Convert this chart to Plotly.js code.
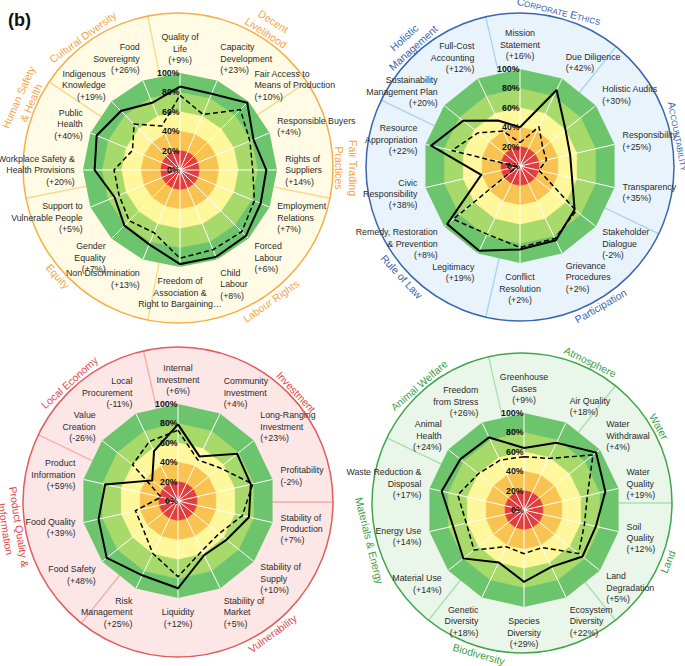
<!DOCTYPE html>
<html>
<head>
<meta charset="utf-8">
<script src="https://cdn.plot.ly/plotly-3.0.1.min.js"></script>
<style>
  html, body { margin: 0; padding: 0; background: #fff; }
  #chart { width: 685px; height: 666px; }
</style>
</head>
<body>
<div id="chart"></div>
<script>
// Score rings (percent) and band edges
const ringTicks = [0, 20, 40, 60, 80, 100];
const bandEdges = [80, 60, 40, 20];

// Social well-being
const socialNames = ["Quality of<br>Life", "Capacity<br>Development", "Fair Access to<br>Means of Production",
  "Responsible Buyers", "Rights of<br>Suppliers", "Employment<br>Relations", "Forced<br>Labour", "Child<br>Labour",
  "Freedom of<br>Association &<br>Right to Bargaining…", "Non Discrimination", "Gender<br>Equality",
  "Support to<br>Vulnerable People", "Workplace Safety &<br>Health Provisions", "Public<br>Health",
  "Indigenous<br>Knowledge", "Food<br>Sovereignty"];
const socialChange = [9, 23, 10, 4, 14, 7, 6, 8, null, 13, 7, 5, 20, 40, 19, 26];
const socialAfter = [86, 85, 98, 82, 89, 90, 96, 97, 97, 83, 81, 73, 88, 93, 86, 75];
const socialBefore = [77, 62, 88, 78, 75, 83, 90, 89, 91, 70, 74, 68, 68, 53, 67, 49];
const socialThemes = ["Decent<br>Livelihood", "Fair Trading<br>Practices", "Labour Rights", "Equity",
  "Human Safety<br>& Health", "Cultural Diversity"];
const socialThemeSizes = [3, 2, 4, 3, 2, 2];

// Good governance
const governanceNames = ["Mission<br>Statement", "Due Diligence", "Holistic Audits", "Responsibility",
  "Transparency", "Stakeholder<br>Dialogue", "Grievance<br>Procedures", "Conflict<br>Resolution", "Legitimacy",
  "Remedy, Restoration<br>& Prevention", "Civic<br>Responsibility", "Resource<br>Appropriation",
  "Sustainability<br>Management Plan", "Full-Cost<br>Accounting"];
const governanceChange = [16, 42, 30, 25, 35, -2, 2, 2, 19, 8, 38, 22, 20, 12];
const governanceAfter = [40, 87, 60, 53, 55, 72, 85, 86, 97, 96, 41, 94, 75, 52];
const governanceBefore = [24, 45, 30, 28, 20, 74, 83, 84, 78, 88, 3, 72, 55, 40];
const governanceThemes = ["C<span style='font-size:8px'>ORPORATE</span> E<span style='font-size:8px'>THICS</span>",
  "A<span style='font-size:8px'>CCOUNTABILITY</span>", "Participation", "Rule of Law", "Holistic<br>Management"];
const governanceThemeSizes = [2, 3, 3, 4, 2];

// Economic resilience
const economicNames = ["Internal<br>Investment", "Community<br>Investment", "Long-Ranging<br>Investment",
  "Profitability", "Stability of<br>Production", "Stability of<br>Supply", "Stability of<br>Market", "Liquidity",
  "Risk<br>Management", "Food Safety", "Food Quality", "Product<br>Information", "Value<br>Creation",
  "Local<br>Procurement"];
const economicChange = [6, 4, 23, -2, 7, 10, 5, 12, 25, 48, 39, 59, -26, -11];
const economicAfter = [79, 51, 78, 77, 75, 64, 62, 90, 85, 94, 84, 77, 34, 57];
const economicBefore = [73, 47, 55, 79, 68, 54, 57, 78, 60, 46, 45, 18, 60, 68];
const economicThemes = ["Investment", "Vulnerability", "Product Quality &<br>Information", "Local Economy"];
const economicThemeSizes = [4, 5, 3, 2];

// Environmental integrity
const environmentNames = ["Greenhouse<br>Gases", "Air Quality", "Water<br>Withdrawal", "Water<br>Quality",
  "Soil<br>Quality", "Land<br>Degradation", "Ecosystem<br>Diversity", "Species<br>Diversity", "Genetic<br>Diversity",
  "Material Use", "Energy Use", "Waste Reduction &<br>Disposal", "Animal<br>Health", "Freedom<br>from Stress"];
const environmentChange = [9, 18, 4, 19, 12, 5, 22, 29, 18, 14, 14, 17, 24, 26];
const environmentAfter = [64, 77, 95, 86, 76, 77, 65, 74, 60, 80, 75, 87, 84, 83];
const environmentBefore = [55, 59, 91, 67, 64, 72, 43, 45, 42, 66, 61, 70, 60, 57];
const environmentThemes = ["Atmosphere", "Water", "Land", "Biodiversity", "Materials & Energy", "Animal Welfare"];
const environmentThemeSizes = [2, 2, 2, 3, 3, 2];

(function () {
  const W = 685, H = 666;
  const R_IN = 97;
  const FONT = "Liberation Sans, Arial, sans-serif";
  const bandFill = { 100: "#6cc46c", 80: "#a7d96b", 60: "#fff79b", 40: "#f8c350", 20: "#e23e3f" };

  // cx/cy: score polygon centre; rx/ry/rr: outer ring circle
  const panels = [
    { names: socialNames, change: socialChange, after: socialAfter, before: socialBefore,
      themes: socialThemes, sizes: socialThemeSizes, labelAt: [33, 90, 145, 228, 294, 324],
      cx: 180, cy: 170, rx: 178, ry: 168, rr: 155,
      ring: "#fffbe4", edge: "#f6ae48", divider: "#f8d888", ink: "#f5a43c" },
    { names: governanceNames, change: governanceChange, after: governanceAfter, before: governanceBefore,
      themes: governanceThemes, sizes: governanceThemeSizes, labelAt: [14, 79, 150, 227, 318],
      cx: 520, cy: 166, rx: 520, ry: 167, rr: 154,
      ring: "#e8f3fc", edge: "#3b67ae", divider: "#a6d2f2", ink: "#3765b0" },
    { names: economicNames, change: economicChange, after: economicAfter, before: economicBefore,
      themes: economicThemes, sizes: economicThemeSizes, labelAt: [47, 144, 261, 318],
      cx: 178, cy: 501, rx: 178, ry: 502, rr: 155,
      ring: "#fde6e6", edge: "#e35b5b", divider: "#f3a8a8", ink: "#e2474b" },
    { names: environmentNames, change: environmentChange, after: environmentAfter, before: environmentBefore,
      themes: environmentThemes, sizes: environmentThemeSizes, labelAt: [26, 61, 112, 196, 256, 319],
      cx: 524, cy: 510, rx: 522, ry: 503, rr: 150,
      ring: "#eaf6ea", edge: "#3fa64a", divider: "#a8dfb0", ink: "#3a9f45" }
  ];

  function catLabel(name, ch) {
    if (ch === null) return name;
    return `${name}<br>(${ch > 0 ? "+" : ""}${ch}%)`;
  }

  function closed(a) {
    return a.concat([a[0]]);
  }

  function domain(cx, cy, r) {
    return { x: [(cx - r) / W, (cx + r) / W], y: [(H - cy - r) / H, (H - cy + r) / H] };
  }

  const traces = [];
  const layout = {
    width: W,
    height: H,
    margin: { l: 0, r: 0, t: 0, b: 0 },
    paper_bgcolor: "white",
    showlegend: false,
    font: { family: FONT, color: "#262626" },
    annotations: [{
      text: "<b>(b)</b>", xref: "paper", yref: "paper", x: 6 / W, y: 1 - 8 / H,
      xanchor: "left", yanchor: "top", showarrow: false, font: { size: 18, color: "#111" }
    }]
  };

  panels.forEach((p, k) => {
    const backId = k === 0 ? "polar" : "polar" + (2 * k + 1);
    const frontId = "polar" + (2 * k + 2);
    const n = p.names.length;
    const step = 360 / n;
    const labels = p.names.map((nm, i) => catLabel(nm, p.change[i]));

    // outer ring: theme dividers
    const starts = [];
    p.sizes.reduce((acc, s) => { starts.push(acc); return acc + s; }, 0);
    const divTheta = [], divR = [];
    starts.forEach(s => {
      const a = (s - 0.5) * step;
      divTheta.push(a, a, a);
      divR.push(0.55, 1, null);
    });
    traces.push({
      type: "scatterpolar", subplot: backId, mode: "lines", theta: divTheta, r: divR,
      line: { color: p.divider, width: 1.3 }, hoverinfo: "skip"
    });

    layout[backId] = {
      domain: domain(p.rx, p.ry, p.rr),
      bgcolor: p.ring,
      angularaxis: {
        direction: "clockwise", rotation: 90, showgrid: false, showticklabels: false, ticks: "",
        showline: true, linecolor: p.edge, linewidth: 1.5
      },
      radialaxis: { visible: false, range: [0, 1] }
    };

    // score bands
    bandEdges.forEach(edge => {
      traces.push({
        type: "scatterpolar", subplot: frontId, mode: "lines",
        theta: closed(labels), r: closed(labels.map(() => edge)),
        fill: "toself", fillcolor: bandFill[edge], line: { color: bandFill[edge], width: 0.5 },
        hoverinfo: "skip"
      });
    });

    // spokes
    traces.push({
      type: "scatterpolar", subplot: frontId, mode: "lines",
      theta: labels.flatMap(l => [l, l, l]), r: labels.flatMap(() => [0, 100, null]),
      line: { color: "white", width: 1 }, hoverinfo: "skip"
    });

    traces.push({
      type: "scatterpolar", subplot: frontId, mode: "lines",
      theta: closed(labels), r: closed(p.before),
      line: { color: "black", width: 1.5, dash: "5px,3px" }, name: "Before"
    });
    traces.push({
      type: "scatterpolar", subplot: frontId, mode: "lines",
      theta: closed(labels), r: closed(p.after),
      line: { color: "black", width: 2 }, name: "After"
    });

    layout[frontId] = {
      domain: domain(p.cx, p.cy, R_IN),
      bgcolor: bandFill[100],
      gridshape: "linear",
      angularaxis: {
        type: "category", categoryarray: labels, direction: "clockwise", rotation: 90,
        showgrid: false, showline: false,
        ticks: "outside", ticklen: 6, tickcolor: "rgba(0,0,0,0)",
        tickfont: { size: 8.8, color: "#2b2b2b" }
      },
      radialaxis: { visible: false, range: [0, 100] }
    };

    // percent scale, up the first spoke
    ringTicks.forEach(v => {
      layout.annotations.push({
        text: v + "%", xref: "paper", yref: "paper",
        x: (p.cx + 2) / W, y: 1 - (p.cy - R_IN * v / 100) / H,
        xanchor: "right", yanchor: "middle", showarrow: false,
        font: { size: 8.8, color: "#111", weight: "bold" }
      });
    });

    // theme labels around the ring
    p.themes.forEach((t, i) => {
      const a = p.labelAt[i];
      const rr = p.rr + (t.includes("<br>") ? 13 : 7);
      const rad = a * Math.PI / 180;
      const x = p.rx + rr * Math.sin(rad);
      const y = p.ry - rr * Math.cos(rad);
      const ang = (a > 90 && a < 270) ? a - 180 : (a >= 270 ? a - 360 : a);
      layout.annotations.push({
        text: t, xref: "paper", yref: "paper", x: x / W, y: 1 - y / H,
        xanchor: "center", yanchor: "middle", showarrow: false, textangle: ang,
        font: { size: 10.5, color: p.ink }
      });
    });
  });

  Plotly.newPlot("chart", traces, layout, { displayModeBar: false, staticPlot: true });
})();
</script>
</body>
</html>
